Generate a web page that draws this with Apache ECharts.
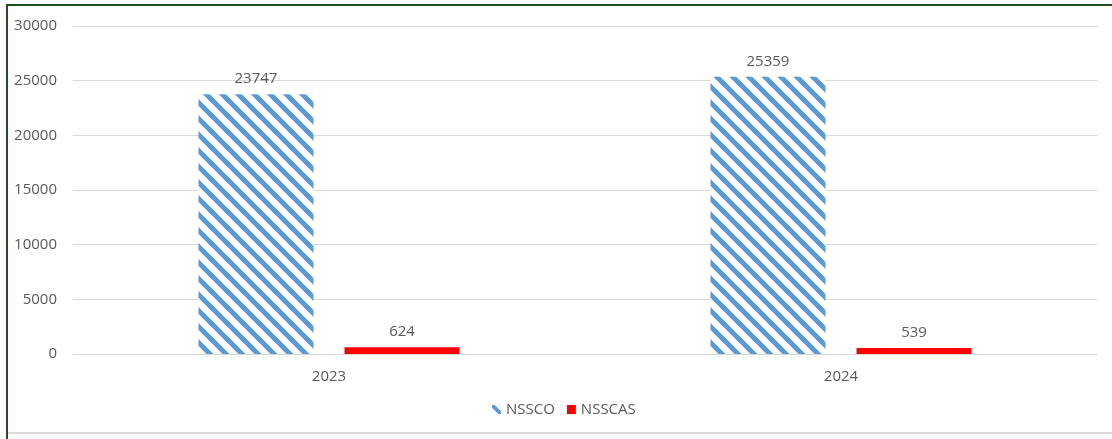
<!DOCTYPE html>
<html>
<head>
<meta charset="utf-8">
<script src="https://cdn.jsdelivr.net/npm/echarts@6/dist/echarts.min.js"></script>
<style>
  html, body { margin: 0; padding: 0; background: #ffffff; }
  #chart { width: 1112px; height: 439px; }
</style>
</head>
<body>
<div id="chart"></div>
<script>
// Data
const years = ['2023', '2024'];
const nssco = [23747, 25359];
const nsscas = [624, 539];
const seriesNames = ['NSSCO', 'NSSCAS'];

const BLUE = '#5B9BD5';
const RED = '#FF0000';
const TEXT = '#595959';
const FONT = 'Open Sans';
const FS = 15;

// Diagonal hatch tile (stripes running top-left to bottom-right)
function hatchTile() {
  const s = 16;
  const c = document.createElement('canvas');
  c.width = s; c.height = s;
  const ctx = c.getContext('2d');
  ctx.fillStyle = '#ffffff';
  ctx.fillRect(0, 0, s, s);
  ctx.strokeStyle = BLUE;
  ctx.lineWidth = 5;
  for (let k = -1; k <= 1; k++) {
    ctx.beginPath();
    ctx.moveTo(k * s - 2, -2);
    ctx.lineTo(k * s + s + 2, s + 2);
    ctx.stroke();
  }
  return c;
}

const chart = echarts.init(document.getElementById('chart'), null, { renderer: 'canvas' });

const labelStyle = {
  show: true,
  position: 'top',
  distance: 8,
  color: TEXT,
  fontFamily: FONT,
  fontSize: FS
};

chart.setOption({
  animation: false,
  backgroundColor: '#ffffff',
  graphic: [
    { type: 'rect', shape: { x: 6, y: 4, width: 1106, height: 2 }, style: { fill: '#1E4D1E' }, silent: true },
    { type: 'rect', shape: { x: 6, y: 4, width: 2, height: 435 }, style: { fill: '#1E4D1E' }, silent: true },
    { type: 'rect', shape: { x: 8, y: 432, width: 1104, height: 2 }, style: { fill: '#D9D9D9' }, silent: true }
  ],
  grid: { left: 73, right: 15, top: 26, bottom: 85, containLabel: false },
  legend: {
    left: 487,
    top: 397,
    itemWidth: 9,
    itemHeight: 9,
    itemGap: 12,
    textStyle: { color: TEXT, fontFamily: FONT, fontSize: FS },
    data: [
      { name: seriesNames[0], icon: 'path://M0,0 L3,0 L10,7 L10,10 L7,10 L0,3 Z', itemStyle: { color: BLUE } },
      { name: seriesNames[1], icon: 'rect', itemStyle: { color: RED } }
    ]
  },
  xAxis: {
    type: 'category',
    data: years,
    axisLine: { show: true, lineStyle: { color: '#D9D9D9', width: 1 } },
    axisTick: { show: false },
    axisLabel: { color: TEXT, fontFamily: FONT, fontSize: FS, margin: 15 }
  },
  yAxis: {
    type: 'value',
    min: 0,
    max: 30000,
    interval: 5000,
    axisLine: { show: false },
    axisTick: { show: false },
    splitLine: { lineStyle: { color: '#D9D9D9', width: 1 } },
    axisLabel: { color: TEXT, fontFamily: FONT, fontSize: FS, margin: 16, formatter: v => String(v) }
  },
  series: [
    {
      name: seriesNames[0],
      type: 'bar',
      data: nssco,
      barWidth: 115,
      barGap: '27%',
      itemStyle: { color: { image: hatchTile(), repeat: 'repeat' } },
      label: labelStyle
    },
    {
      name: seriesNames[1],
      type: 'bar',
      data: nsscas,
      barWidth: 115,
      barGap: '27%',
      itemStyle: { color: RED },
      label: labelStyle
    }
  ]
});
</script>
</body>
</html>
